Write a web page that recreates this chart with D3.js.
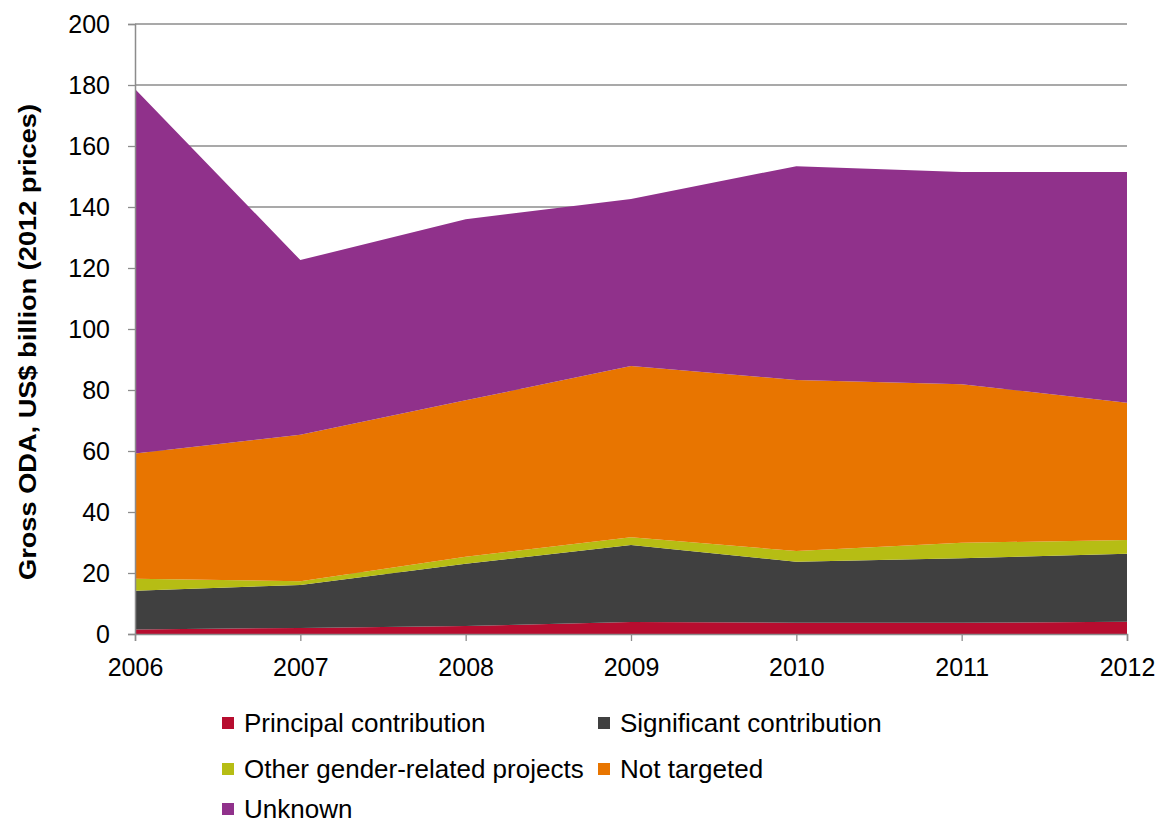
<!DOCTYPE html>
<html lang="en">
<head>
<meta charset="utf-8">
<title>Gross ODA by gender marker</title>
<script src="https://d3js.org/d3.v7.min.js"></script>
<style>
  body { margin: 0; background: #fff; font-family: "Liberation Sans", Arial, sans-serif; }
</style>
</head>
<body>
<div id="chart"></div>
<script>
  // data (US$ billion)
  var years = [2006, 2007, 2008, 2009, 2010, 2011, 2012];
  var principal = [1.5, 2.0, 2.6, 3.9, 3.7, 3.7, 4.0];
  var significant = [12.7, 14.1, 20.4, 25.3, 20.0, 21.1, 22.3];
  var otherGender = [3.9, 1.2, 2.3, 2.5, 3.5, 5.1, 4.5];
  var notTargeted = [41.1, 48.0, 51.3, 56.2, 56.1, 52.0, 45.0];
  var unknown = [119.5, 57.3, 59.4, 54.7, 70.1, 69.6, 75.7];
  var seriesNames = ["Principal contribution", "Significant contribution",
    "Other gender-related projects", "Not targeted", "Unknown"];
  var seriesColors = ["#b70d2f", "#404040", "#b6bd14", "#e87500", "#90318b"];
  var yTicks = [0, 20, 40, 60, 80, 100, 120, 140, 160, 180, 200];

  var width = 1159, height = 823;
  var margin = { top: 24, right: 32, bottom: 189, left: 135 };
  var w = width - margin.left - margin.right,
      h = height - margin.top - margin.bottom;
  var font = "Liberation Sans, Arial, sans-serif";

  var svg = d3.select("#chart").append("svg")
    .attr("width", width).attr("height", height);
  var g = svg.append("g")
    .attr("transform", "translate(" + margin.left + "," + margin.top + ")");

  var x = d3.scaleLinear().domain([2006, 2012]).range([0, w]);
  var y = d3.scaleLinear().domain([0, 200]).range([h, 0]);

  // table for the stack
  var rows = years.map(function(yr, i) {
    return { year: yr, p: principal[i], s: significant[i], o: otherGender[i],
             n: notTargeted[i], u: unknown[i] };
  });
  var keys = ["p", "s", "o", "n", "u"];
  var stacked = d3.stack().keys(keys)(rows);

  // gridlines
  g.append("g").selectAll("line").data(yTicks).enter().append("line")
    .attr("x1", 0).attr("x2", w)
    .attr("y1", function(d) { return y(d); })
    .attr("y2", function(d) { return y(d); })
    .attr("stroke", "#8c8c8c").attr("stroke-width", 1.3);

  var area = d3.area()
    .x(function(d) { return x(d.data.year); })
    .y0(function(d) { return y(d[0]); })
    .y1(function(d) { return y(d[1]); });

  g.append("g").selectAll("path").data(stacked).enter().append("path")
    .attr("d", area)
    .attr("fill", function(d, i) { return seriesColors[i]; });

  // y axis
  var yAxis = g.append("g")
    .call(d3.axisLeft(y).tickValues(yTicks).tickSize(7).tickPadding(18));
  yAxis.select(".domain").attr("stroke", "#8c8c8c").attr("stroke-width", 1.5);
  yAxis.selectAll(".tick line").attr("stroke", "#8c8c8c").attr("stroke-width", 1.3);
  yAxis.selectAll("text").attr("font-size", 25).attr("fill", "#000")
    .attr("font-family", font);

  // x axis
  var xAxis = g.append("g")
    .attr("transform", "translate(0," + h + ")")
    .call(d3.axisBottom(x).tickValues(years).tickFormat(d3.format("d"))
      .tickSize(7).tickPadding(17));
  xAxis.select(".domain").attr("stroke", "#8c8c8c").attr("stroke-width", 1.5);
  xAxis.selectAll(".tick line").attr("stroke", "#8c8c8c").attr("stroke-width", 1.3);
  xAxis.selectAll("text").attr("font-size", 25).attr("fill", "#000")
    .attr("font-family", font);

  // y axis title
  svg.append("text")
    .attr("transform", "translate(36,342) rotate(-90)")
    .attr("text-anchor", "middle")
    .attr("font-size", 24).attr("font-weight", "bold")
    .attr("font-family", font)
    .attr("textLength", 476).attr("lengthAdjust", "spacingAndGlyphs")
    .text("Gross ODA, US$ billion (2012 prices)");

  // legend, two columns
  var legendPos = [[222, 732], [598, 732], [222, 778], [598, 778], [222, 818]];
  var legend = svg.append("g").selectAll("g").data(seriesNames).enter().append("g")
    .attr("transform", function(d, i) {
      return "translate(" + legendPos[i][0] + "," + legendPos[i][1] + ")";
    });
  legend.append("rect")
    .attr("x", 0).attr("y", -15).attr("width", 12).attr("height", 12)
    .attr("fill", function(d, i) { return seriesColors[i]; });
  legend.append("text")
    .attr("x", 22).attr("y", 0)
    .attr("font-size", 26)
    .attr("font-family", font)
    .text(function(d) { return d; });
</script>
</body>
</html>
